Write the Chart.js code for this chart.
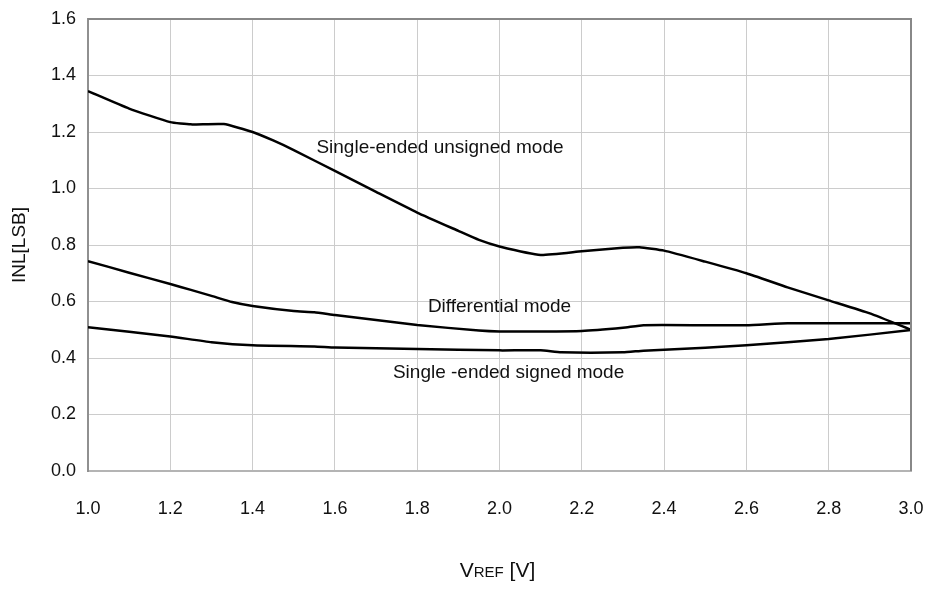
<!DOCTYPE html>
<html>
<head>
<meta charset="utf-8">
<script src="https://cdn.jsdelivr.net/npm/chart.js@4.4.1/dist/chart.umd.min.js"></script>
<style>
  html, body { margin: 0; padding: 0; background: #ffffff; }
  #wrap { width: 930px; height: 589px; position: relative; }
</style>
</head>
<body>
<div id="wrap"><canvas id="c" width="930" height="589"></canvas></div>
<script>
// ---- Data ----
const unsignedV = [1.0, 1.1, 1.2, 1.25, 1.33, 1.4, 1.45, 1.5, 1.6, 1.7, 1.8, 1.9, 1.95, 2.0, 2.1, 2.2, 2.3, 2.34, 2.4, 2.5, 2.6, 2.7, 2.8, 2.9, 3.0];
const unsignedINL = [1.345, 1.283, 1.235, 1.227, 1.228, 1.20, 1.17, 1.136, 1.062, 0.988, 0.915, 0.85, 0.818, 0.795, 0.765, 0.778, 0.79, 0.792, 0.78, 0.741, 0.70, 0.65, 0.604, 0.558, 0.50];

const diffV = [1.0, 1.1, 1.2, 1.25, 1.3, 1.35, 1.4, 1.5, 1.55, 1.6, 1.8, 1.95, 2.0, 2.2, 2.3, 2.35, 2.5, 2.6, 2.7, 2.8, 3.0];
const diffINL = [0.743, 0.702, 0.662, 0.641, 0.62, 0.598, 0.584, 0.566, 0.562, 0.552, 0.517, 0.497, 0.494, 0.496, 0.507, 0.516, 0.516, 0.516, 0.523, 0.523, 0.523];

const signedV = [1.0, 1.2, 1.3, 1.4, 1.55, 1.6, 1.8, 2.0, 2.1, 2.15, 2.3, 2.35, 2.5, 2.6, 2.8, 3.0];
const signedINL = [0.509, 0.476, 0.456, 0.445, 0.441, 0.437, 0.432, 0.427, 0.427, 0.42, 0.42, 0.426, 0.436, 0.445, 0.467, 0.499];

const seriesNames = ['Single-ended unsigned mode', 'Differential mode', 'Single -ended signed mode'];
// label anchor positions in data units (x = VREF, y = INL)
const labelX = [1.555, 1.826, 1.741];
const labelY = [1.143, 0.58, 0.347];

const yAxisTitle = 'INL[LSB]';
const xTitleMain = 'V';
const xTitleSub = 'REF';
const xTitleTail = ' [V]';

const FONT = '"Liberation Sans", Arial, sans-serif';

function pts(xs, ys) { return xs.map((x, i) => ({ x: x, y: ys[i] })); }

const extras = {
  id: 'extras',
  afterDraw(chart) {
    const ctx = chart.ctx;
    const a = chart.chartArea;
    const xs = chart.scales.x, ys = chart.scales.y;
    ctx.save();
    // plot frame top/right
    ctx.strokeStyle = '#888888';
    ctx.lineWidth = 2;
    ctx.beginPath();
    ctx.moveTo(a.left, a.top);
    ctx.lineTo(a.right, a.top);
    ctx.lineTo(a.right, a.bottom);
    ctx.stroke();
    // series labels
    ctx.fillStyle = '#111111';
    ctx.font = '19px ' + FONT;
    ctx.textAlign = 'left';
    ctx.textBaseline = 'middle';
    for (let i = 0; i < seriesNames.length; i++) {
      ctx.fillText(seriesNames[i], xs.getPixelForValue(labelX[i]), ys.getPixelForValue(labelY[i]));
    }
    // y axis title
    ctx.save();
    ctx.translate(20, (a.top + a.bottom) / 2);
    ctx.rotate(-Math.PI / 2);
    ctx.textAlign = 'center';
    ctx.font = '19px ' + FONT;
    ctx.fillText(yAxisTitle, 0, 0);
    ctx.restore();
    // x axis title with small-caps REF
    const f1 = '21px ' + FONT, f2 = '15px ' + FONT;
    ctx.font = f1; const w1 = ctx.measureText(xTitleMain).width; const w3 = ctx.measureText(xTitleTail).width;
    ctx.font = f2; const w2 = ctx.measureText(xTitleSub).width;
    const total = w1 + w2 + w3;
    let cx = (a.left + a.right) / 2 - total / 2 - 2;
    const by = 577;
    ctx.textBaseline = 'alphabetic';
    ctx.textAlign = 'left';
    ctx.font = f1; ctx.fillText(xTitleMain, cx, by); cx += w1;
    ctx.font = f2; ctx.fillText(xTitleSub, cx, by); cx += w2;
    ctx.font = f1; ctx.fillText(xTitleTail, cx, by);
    ctx.restore();
  }
};

const lineStyle = { borderColor: '#000000', borderWidth: 2.5, pointRadius: 0, fill: false, tension: 0.15 };

new Chart(document.getElementById('c'), {
  type: 'scatter',
  data: {
    datasets: [
      Object.assign({ label: seriesNames[0], data: pts(unsignedV, unsignedINL), showLine: true }, lineStyle),
      Object.assign({ label: seriesNames[1], data: pts(diffV, diffINL), showLine: true }, lineStyle),
      Object.assign({ label: seriesNames[2], data: pts(signedV, signedINL), showLine: true }, lineStyle)
    ]
  },
  options: {
    responsive: false,
    animation: false,
    devicePixelRatio: 1,
    layout: { padding: { top: 19, right: 19, left: 0, bottom: 0 } },
    plugins: { legend: { display: false }, tooltip: { enabled: false } },
    scales: {
      x: {
        type: 'linear', min: 1.0, max: 3.0,
        afterFit(s) { s.height = 118; s.paddingLeft = 0; s.paddingRight = 0; },
        ticks: { stepSize: 0.2, padding: 27, color: '#111111', font: { family: FONT, size: 18 },
                 callback: v => Number(v).toFixed(1), maxRotation: 0 },
        grid: { color: '#cccccc', lineWidth: 1, drawTicks: false },
        border: { color: '#b4b4b4', width: 2 }
      },
      y: {
        type: 'linear', min: 0, max: 1.6,
        afterFit(s) { s.width = 88; s.paddingTop = 0; s.paddingBottom = 0; },
        ticks: { stepSize: 0.2, padding: 12, color: '#111111', font: { family: FONT, size: 18 },
                 callback: v => Number(v).toFixed(1) },
        grid: { color: '#cccccc', lineWidth: 1, drawTicks: false },
        border: { color: '#909090', width: 2 }
      }
    }
  },
  plugins: [extras]
});
</script>
</body>
</html>
